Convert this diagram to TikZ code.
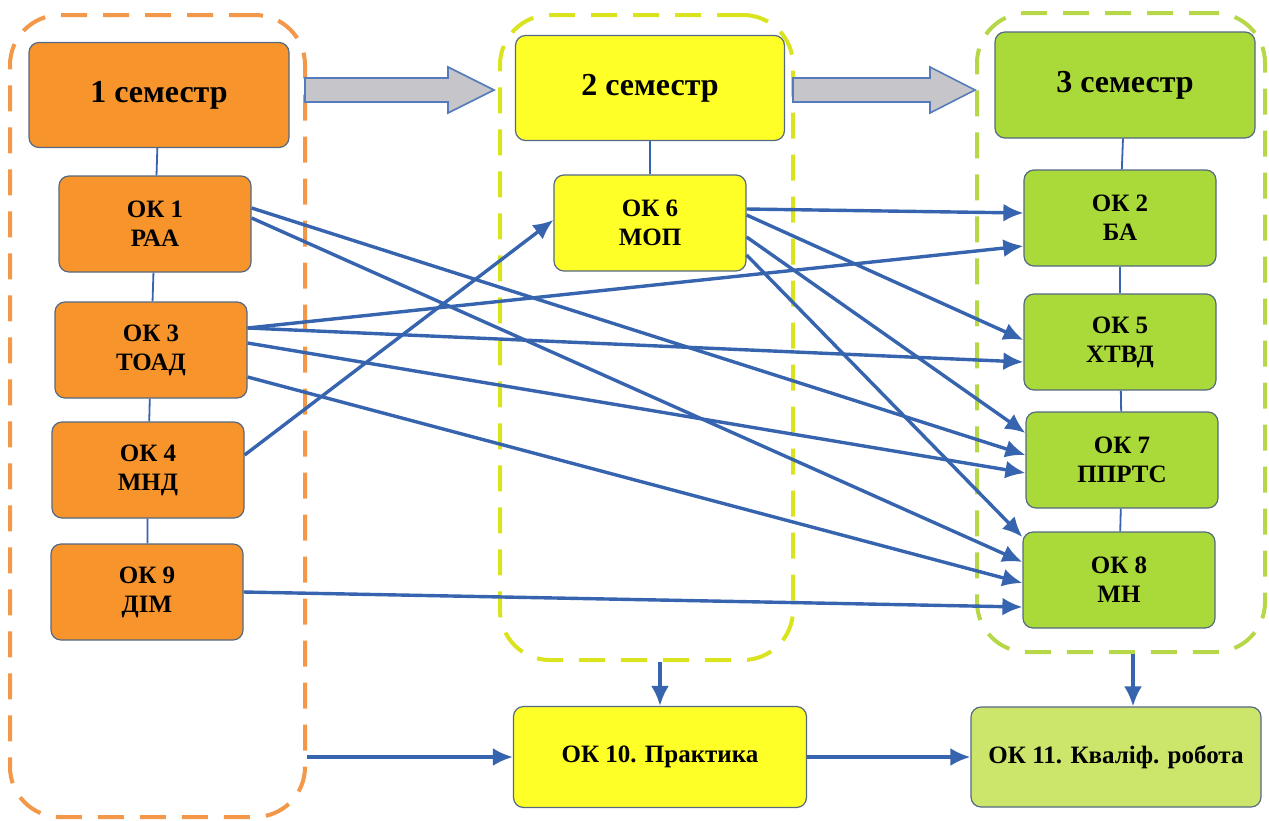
\documentclass[tikz,border=0pt]{standalone}
\usepackage{fontspec}
\setmainfont{Liberation Serif}
\usepackage{xcolor}
\usetikzlibrary{arrows.meta}

\definecolor{semone}{RGB}{247,148,44}
\definecolor{semtwo}{RGB}{255,255,40}
\definecolor{semthree}{RGB}{170,218,58}
\definecolor{thesis}{RGB}{204,230,108}
\definecolor{boxline}{RGB}{85,105,130}
\definecolor{linkblue}{RGB}{55,100,175}
\definecolor{dashone}{RGB}{242,152,72}
\definecolor{dashtwo}{RGB}{218,228,30}
\definecolor{dashthree}{RGB}{182,216,72}
\definecolor{arrowgray}{RGB}{198,198,202}

\tikzset{
	okbox/.style={draw=boxline, line width=0.6pt, rounded corners=5pt, minimum width=96pt, minimum height=48pt, align=center, font=\fontsize{12.5}{14.5}\selectfont\bfseries},
	sembox/.style={okbox, minimum width=130pt, minimum height=52.5pt, font=\fontsize{16}{19}\selectfont\bfseries},
	group/.style={draw, dash pattern=on 13pt off 8pt, line width=2pt, rounded corners=25pt},
	link/.style={->,>={Latex[length=10pt,width=9pt]}, line width=1.7pt, color=linkblue},
	tie/.style={line width=0.9pt, color=linkblue},
}

\begin{document}
\begin{tikzpicture}[x=0.5pt,y=-0.5pt]
	\useasboundingbox (0,0) rectangle (1269,820);

	% dashed groups
	\node[group, draw=dashone, minimum width=147.5pt, minimum height=401pt] at (157.5,416) (c1) {};
	\node[group, draw=dashtwo, minimum width=146.5pt, minimum height=322.5pt] at (646.5,337.5) (c2) {};
	\node[group, draw=dashthree, minimum width=144pt, minimum height=319.5pt] at (1121,332.5) (c3) {};

	% big gray arrows
	\filldraw[fill=arrowgray, draw=linkblue!85, line width=0.8pt]
		(305,78) -- (448,78) -- (448,67) -- (494,90) -- (448,113) -- (448,102) -- (305,102) -- cycle;
	\filldraw[fill=arrowgray, draw=linkblue!85, line width=0.8pt]
		(793,78) -- (930,78) -- (930,67) -- (975,90) -- (930,113) -- (930,102) -- (793,102) -- cycle;

	% 1 semester
	\node[sembox, fill=semone] at (159,95) (s1) {1 семестр};
	\node[okbox, fill=semone] at (155,224) (ok1) {ОК 1\\РАА};
	\node[okbox, fill=semone] at (151,350) (ok3) {ОК 3\\ТОАД};
	\node[okbox, fill=semone] at (148,470) (ok4) {ОК 4\\МНД};
	\node[okbox, fill=semone] at (147,592) (ok9) {ОК 9\\ДІМ};

	% 2 semester
	\node[sembox, fill=semtwo, minimum width=134.5pt] at (650,88) (s2) {2 семестр};
	\node[okbox, fill=semtwo] at (650,223) (ok6) {ОК 6\\МОП};

	% 3 semester
	\node[sembox, fill=semthree, minimum height=53pt] at (1125,85) (s3) {3 семестр};
	\node[okbox, fill=semthree] at (1120,218) (ok2) {ОК 2\\БА};
	\node[okbox, fill=semthree] at (1120,342) (ok5) {ОК 5\\ХТВД};
	\node[okbox, fill=semthree] at (1122,460) (ok7) {ОК 7\\ППРТС};
	\node[okbox, fill=semthree] at (1119,580) (ok8) {ОК 8\\МН};

	% practice and thesis
	\node[okbox, fill=semtwo, minimum width=146.5pt, minimum height=50.5pt] at (660,757) (ok10) {ОК 10. Практика};
	\node[okbox, fill=thesis, minimum width=145pt, minimum height=50pt] at (1116,757) (ok11) {ОК 11. Кваліф. робота};

	\draw[tie] (s1) -- (ok1);
	\draw[tie] (ok1) -- (ok3);
	\draw[tie] (ok3) -- (ok4);
	\draw[tie] (ok4) -- (ok9);
	\draw[tie] (s2) -- (ok6);
	\draw[tie] (s3) -- (ok2);
	\draw[tie] (ok2) -- (ok5);
	\draw[tie] (ok5) -- (ok7);
	\draw[tie] (ok7) -- (ok8);

	\draw[link] ([yshift=8pt]ok1.east) -- ([yshift=2.5pt]ok7.west);
	\draw[link] ([yshift=3pt]ok1.east) -- ([yshift=9pt]ok8.west);
	\draw[link] ([yshift=11pt]ok3.east) -- ([yshift=-14pt]ok2.west);
	\draw[link] ([yshift=11pt]ok3.east) -- ([yshift=-10pt]ok5.west);
	\draw[link] ([yshift=3.5pt]ok3.east) -- ([yshift=-6.5pt]ok7.west);
	\draw[link] ([yshift=-13.5pt]ok3.east) -- ([yshift=-1.5pt]ok8.west);
	\draw[link] ([yshift=7.5pt]ok4.east) -- ([yshift=1.5pt]ok6.west);
	\draw[link] (ok9.east) -- ([yshift=-13.5pt]ok8.west);
	\draw[link] ([yshift=7pt]ok6.east) -- ([yshift=2.5pt]ok2.west);
	\draw[link] ([yshift=4pt]ok6.east) -- ([yshift=1pt]ok5.west);
	\draw[link] ([yshift=-7pt]ok6.east) -- ([yshift=13.5pt]ok7.west);
	\draw[link] ([yshift=-16pt]ok6.east) -- ([yshift=21.5pt]ok8.west);

	\draw[link] (ok10.north |- c2.south) -- (ok10.north);
	\draw[link] ([xshift=6pt]c3.south) -- ([xshift=6pt]c3.south |- ok11.north);
	\draw[link] (ok10.west -| c1.east) -- (ok10.west);
	\draw[link] (ok10) -- (ok11);
\end{tikzpicture}
\end{document}
